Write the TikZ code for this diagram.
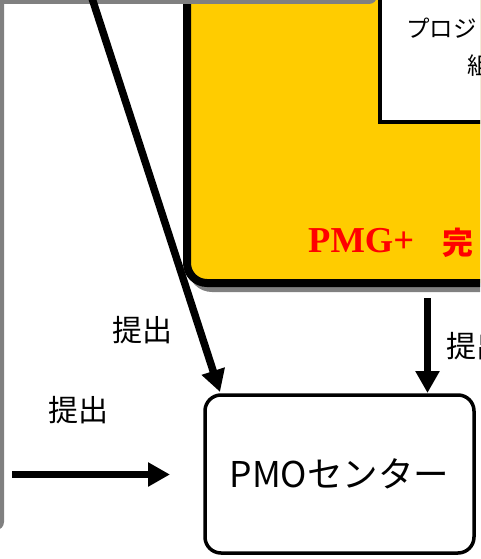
\documentclass[tikz,border=0pt]{standalone}
\usepackage{fontspec}
\usetikzlibrary{arrows.meta,calc}
\newfontfamily\jp{Noto Sans CJK JP}
\newfontfamily\tnr{Liberation Serif}
\definecolor{shadowgray}{HTML}{808080}
\definecolor{pmgyellow}{HTML}{FFCC00}
\definecolor{pmgred}{HTML}{FF0000}
\tikzset{
  arr/.style={line width=7.5pt,-{Triangle[width=23pt,length=22pt]}},
  lbl/.style={font=\jp\fontsize{30}{32}\selectfont, inner sep=0pt},
  shadowfill/.style={fill=shadowgray},
  pmobox/.style={draw, line width=3.5pt, rounded corners=16pt, fill=white,
    minimum width=269pt, minimum height=158pt, inner sep=0pt,
    font=\jp\fontsize{35.5}{38}\selectfont},
  innertxt/.style={font=\jp\fontsize{23.5}{26}\selectfont, inner sep=0pt, anchor=west}
}
\begin{document}
\begin{tikzpicture}[x=1pt,y=-1pt]
\useasboundingbox (0,0) rectangle (480,559);
\clip (0,0) rectangle (480,559);
% yellow group box with shadow
\fill[shadowfill, rounded corners=24pt] (188,-80) rectangle (620,292);
\draw[line width=8pt, fill=pmgyellow, rounded corners=20pt] (187,-80) rectangle (600,283);
% inner white box
\draw[line width=4pt, fill=white] (379.5,-40) rectangle (600,122);
\node[innertxt] (t1) at (406,28) {プロジ};
\node[innertxt] (t2) at (467,66) {組};
% red title
\node[anchor=base west, inner sep=0pt, text=pmgred, font=\tnr\bfseries\fontsize{36.5}{40}\selectfont] (pmg) at (308,252) {PMG+};
\node[anchor=base west, inner sep=0pt, text=pmgred, font=\jp\bfseries\fontsize{31}{34}\selectfont] (kan) at (442,254) {完};
% shadows of boxes outside the frame
\fill[shadowfill, rounded corners=8pt] (-80,-80) rectangle (377,4);
\fill[shadowfill, rounded corners=8pt] (-80,-80) rectangle (4,530);
% PMO center
\node[pmobox] (pmo) at (339.5,474) {PMOセンター};
% connectors
\coordinate (d0) at (90,-8);
\coordinate (d1) at (220,392);
\draw[arr] (d0) -- (d1);
\coordinate (h0) at (12,474.5);
\coordinate (h1) at (170,474.5);
\draw[arr] (h0) -- (h1);
\coordinate (v0) at (427.5,298);
\coordinate (v1) at (427.5,393);
\draw[arr] (v0) -- (v1);
% labels
\node[lbl] (l1) at (142,330) {提出};
\node[lbl] (l2) at (78,410) {提出};
\node[lbl, anchor=west] (l3) at (446,346) {提出};
\end{tikzpicture}
\end{document}
